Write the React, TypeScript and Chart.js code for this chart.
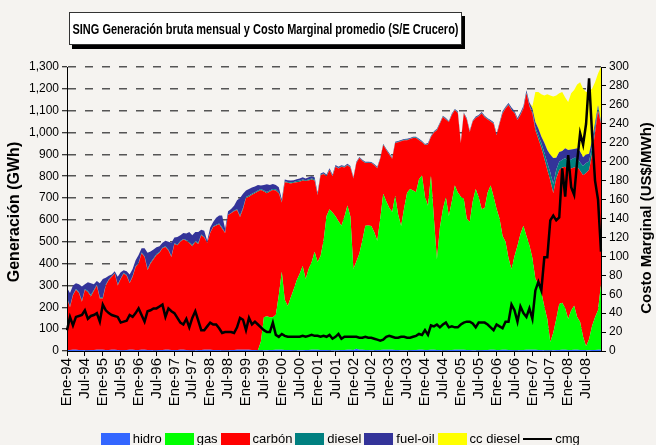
import React, { useEffect, useRef } from 'react';
import { Chart, registerables } from 'chart.js';

Chart.register(...registerables);

const MONTHS = ['Ene', 'Feb', 'Mar', 'Abr', 'May', 'Jun', 'Jul', 'Ago', 'Sep', 'Oct', 'Nov', 'Dic'];
const YEARS = ['94', '95', '96', '97', '98', '99', '00', '01', '02', '03', '04', '05', '06', '07', '08'];
const categories: string[] = [];
for (const y of YEARS) for (const m of MONTHS) categories.push(`${m}-${y}`);

// GWh per month, Jan-94 .. Dec-08
const hidro = [
  5, 5, 6, 6, 5, 5, 4, 4, 5, 5, 6, 6,
  6, 5, 5, 6, 6, 5, 4, 4, 5, 6, 6, 5,
  5, 6, 6, 5, 5, 4, 4, 5, 5, 6, 6, 5,
  5, 5, 6, 6, 5, 4, 4, 4, 5, 5, 6, 6,
  6, 5, 5, 5, 4, 4, 4, 5, 5, 6, 6, 6,
  6, 6, 5, 5, 4, 4, 4, 4, 5, 5, 6, 6,
  6, 5, 5, 5, 4, 4, 4, 4, 5, 5, 6, 6,
  6, 5, 5, 5, 4, 4, 4, 4, 5, 5, 6, 6,
  5, 10, 6, 6, 5, 5, 4, 4, 5, 5, 6, 6,
  6, 6, 5, 5, 4, 4, 4, 4, 5, 5, 6, 6,
  5, 5, 6, 6, 5, 5, 4, 4, 5, 5, 6, 6,
  6, 6, 5, 5, 4, 4, 4, 4, 5, 5, 6, 6,
  5, 5, 6, 6, 5, 5, 4, 4, 5, 5, 6, 6,
  6, 6, 5, 5, 4, 4, 4, 4, 5, 5, 6, 6,
  5, 5, 6, 6, 5, 5, 4, 4, 5, 5, 6, 6,
];

const gas = [
  0, 0, 0, 0, 0, 0, 0, 0, 0, 0, 0, 0,
  0, 0, 0, 0, 0, 0, 0, 0, 0, 0, 0, 0,
  0, 0, 0, 0, 0, 0, 0, 0, 0, 0, 0, 0,
  0, 0, 0, 0, 0, 0, 0, 0, 0, 0, 0, 0,
  0, 0, 0, 0, 0, 0, 0, 0, 0, 0, 0, 0,
  0, 0, 0, 0, 0, 40, 150, 155, 150, 150, 160, 250,
  357, 230, 201, 240, 279, 320, 350, 385, 325, 370, 400, 448,
  401, 430, 500, 613, 645, 630, 613, 590, 568, 610, 660, 610,
  370, 400, 440, 500, 568, 570, 568, 540, 500, 600, 714, 680,
  650, 630, 706, 620, 568, 650, 720, 737, 730, 722, 780, 797,
  700, 660, 797, 600, 415, 560, 645, 700, 613, 680, 752, 720,
  700, 691, 600, 585, 680, 737, 700, 645, 650, 720, 752, 700,
  645, 600, 520, 494, 420, 370, 430, 478, 530, 568, 520, 478,
  420, 325, 300, 265, 200, 142, 37, 80, 142, 210, 215, 190,
  142, 180, 201, 150, 128, 60, 18, 50, 110, 150, 180, 300,
];

const carbon = [
  235, 195, 249, 274, 260, 220, 276, 266, 245, 270, 294, 234,
  234, 295, 320, 334, 349, 295, 326, 351, 340, 304, 334, 380,
  395, 442, 424, 365, 395, 416, 436, 445, 465, 470, 454, 425,
  485, 479, 494, 504, 500, 490, 476, 496, 485, 525, 514, 488,
  534, 563, 570, 575, 556, 536, 618, 625, 635, 639, 607, 644,
  694, 700, 710, 717, 726, 693, 576, 563, 575, 582, 569, 466,
  317, 538, 564, 522, 487, 449, 421, 391, 448, 405, 379, 326,
  307, 370, 305, 182, 179, 166, 226, 241, 270, 225, 184, 224,
  415, 450, 437, 364, 287, 285, 288, 306, 332, 275, 223, 234,
  244, 244, 241, 330, 388, 311, 241, 229, 240, 248, 179, 152,
  238, 280, 177, 394, 591, 475, 422, 356, 430, 395, 345, 364,
  246, 390, 455, 412, 366, 325, 371, 438, 415, 335, 292, 334,
  338, 435, 561, 610, 701, 728, 656, 575, 545, 537, 654, 636,
  661, 680, 665, 660, 676, 682, 739, 638, 643, 613, 619, 647,
  683, 650, 633, 687, 692, 740, 793, 774, 785, 845, 914, 734,
];

const diesel = [
  5, 6, 4, 4, 5, 6, 4, 5, 6, 4, 3, 6,
  6, 4, 3, 2, 2, 4, 3, 3, 3, 4, 4, 3,
  4, 3, 4, 6, 5, 4, 4, 3, 3, 3, 4, 5,
  3, 4, 3, 3, 3, 5, 5, 4, 5, 3, 3, 2,
  3, 2, 3, 4, 5, 2, 2, 2, 3, 4, 7, 6,
  5, 6, 5, 5, 5, 4, 5, 6, 5, 5, 5, 5,
  5, 4, 4, 5, 4, 5, 5, 5, 4, 5, 5, 5,
  4, 3, 3, 3, 3, 3, 3, 3, 3, 3, 3, 3,
  2, 3, 2, 2, 3, 2, 2, 3, 2, 2, 3, 2,
  2, 3, 2, 3, 2, 2, 3, 2, 2, 3, 2, 3,
  2, 3, 2, 2, 3, 2, 3, 2, 2, 3, 2, 3,
  3, 2, 3, 3, 2, 3, 2, 3, 3, 2, 3, 3,
  3, 3, 4, 3, 3, 4, 3, 3, 4, 3, 4, 5,
  8, 12, 18, 22, 28, 32, 38, 42, 40, 38, 35, 40,
  40, 42, 45, 40, 38, 42, 45, 40, 35, 25, 15, 5,
];

const fuelOil = [
  45, 59, 41, 26, 35, 64, 21, 40, 54, 26, 17, 64,
  84, 31, 17, 8, 8, 36, 27, 12, 17, 36, 31, 27,
  36, 19, 36, 74, 50, 41, 31, 27, 22, 26, 36, 60,
  27, 34, 27, 27, 30, 46, 45, 41, 50, 22, 27, 9,
  22, 20, 32, 36, 55, 18, 16, 18, 22, 41, 80, 64,
  30, 30, 28, 26, 25, 16, 25, 35, 25, 22, 20, 22,
  10, 8, 8, 8, 8, 8, 10, 10, 8, 10, 10, 10,
  6, 5, 5, 5, 5, 5, 5, 5, 4, 4, 4, 4,
  4, 3, 3, 4, 3, 4, 3, 3, 4, 3, 3, 4,
  4, 3, 4, 3, 4, 3, 4, 3, 4, 3, 4, 3,
  3, 4, 3, 4, 3, 4, 3, 4, 3, 4, 3, 4,
  4, 3, 4, 4, 3, 4, 3, 4, 4, 3, 4, 4,
  5, 4, 6, 5, 6, 8, 6, 7, 8, 8, 10, 12,
  15, 25, 30, 30, 45, 60, 80, 120, 55, 45, 40, 45,
  50, 45, 40, 45, 50, 40, 40, 35, 30, 20, 10, 5,
];

const ccDiesel = [
  0, 0, 0, 0, 0, 0, 0, 0, 0, 0, 0, 0,
  0, 0, 0, 0, 0, 0, 0, 0, 0, 0, 0, 0,
  0, 0, 0, 0, 0, 0, 0, 0, 0, 0, 0, 0,
  0, 0, 0, 0, 0, 0, 0, 0, 0, 0, 0, 0,
  0, 0, 0, 0, 0, 0, 0, 0, 0, 0, 0, 0,
  0, 0, 0, 0, 0, 0, 0, 0, 0, 0, 0, 0,
  0, 0, 0, 0, 0, 0, 0, 0, 0, 0, 0, 0,
  0, 0, 0, 0, 0, 0, 0, 0, 0, 0, 0, 0,
  0, 0, 0, 0, 0, 0, 0, 0, 0, 0, 0, 0,
  0, 0, 0, 0, 0, 0, 0, 0, 0, 0, 0, 0,
  0, 0, 0, 0, 0, 0, 0, 0, 0, 0, 0, 0,
  0, 0, 0, 0, 0, 0, 0, 0, 0, 0, 0, 0,
  0, 0, 0, 0, 0, 0, 0, 0, 0, 0, 0, 0,
  10, 137, 167, 193, 217, 255, 272, 281, 285, 269, 270, 232,
  220, 258, 270, 292, 317, 313, 285, 287, 235, 185, 145, 250,
];

// US$/MWh
const cmg = [
  22, 36, 27, 36, 37, 38, 43, 34, 37, 38, 40, 31,
  49, 43, 40, 38, 37, 36, 30, 31, 32, 38, 36, 40,
  45, 38, 31, 42, 43, 45, 45, 47, 49, 36, 45, 42,
  40, 35, 30, 28, 34, 25, 35, 42, 32, 22, 22, 26,
  30, 28, 28, 24, 19, 20, 20, 20, 19, 25, 35, 33,
  22, 35, 28, 31, 28, 25, 22, 20, 20, 30, 17, 15,
  18, 16, 15, 15, 15, 15, 15, 16, 15, 16, 17, 16,
  16, 15, 16, 15, 17, 13, 15, 18, 13, 15, 15, 15,
  15, 15, 14, 14, 15, 14, 14, 13, 12, 11, 12, 15,
  16, 15, 14, 14, 15, 15, 14, 14, 15, 16, 18, 17,
  22, 17, 27, 26, 28, 25, 28, 30, 25, 26, 25, 25,
  28, 30, 31, 31, 29, 25, 30, 30, 30, 28, 25, 22,
  28, 26, 24, 31, 31, 49, 43, 31, 47, 40, 36, 45,
  34, 64, 73, 64, 99, 99, 138, 143, 138, 141, 193, 163,
  207, 173, 165, 200, 230, 218, 240, 288, 230, 180, 160, 105,
];

const TITLE = 'SING Generación bruta mensual y Costo Marginal promedio (S/E Crucero)';
const Y_TITLE = 'Generación (GWh)';
const Y1_TITLE = 'Costo Marginal (US$/MWh)';

const AREA_SERIES = [
  { label: 'hidro', data: hidro, color: '#3366ff' },
  { label: 'gas', data: gas, color: '#00ff00' },
  { label: 'carbón', data: carbon, color: '#ff0000' },
  { label: 'diesel', data: diesel, color: '#008080' },
  { label: 'fuel-oil', data: fuelOil, color: '#333399' },
  { label: 'cc diesel', data: ccDiesel, color: '#ffff00' },
];
const LINE_LABEL = 'cmg';

const FONT = "'Liberation Sans', Arial, Helvetica, sans-serif";
const TITLE_FONT = "'Liberation Sans Narrow', 'Liberation Sans', Arial, sans-serif";
const BG = '#f5f3f0';

function makeSwatch(color: string, isLine: boolean): HTMLCanvasElement {
  const c = document.createElement('canvas');
  c.width = 29;
  c.height = 12;
  const g = c.getContext('2d')!;
  g.fillStyle = color;
  if (isLine) g.fillRect(0, 5, 29, 2);
  else g.fillRect(0, 0, 29, 12);
  return c;
}

function drawVertical(ctx: CanvasRenderingContext2D, text: string, x: number, y: number, font: string) {
  ctx.save();
  ctx.translate(x, y);
  ctx.rotate(-Math.PI / 2);
  ctx.font = font;
  ctx.fillStyle = '#000';
  ctx.textAlign = 'center';
  ctx.textBaseline = 'middle';
  ctx.fillText(text, 0, 0);
  ctx.restore();
}

const decorPlugin = {
  id: 'decor',
  beforeDraw(chart: any) {
    const ctx = chart.ctx;
    ctx.save();
    ctx.fillStyle = BG;
    ctx.fillRect(0, 0, chart.width, chart.height);
    ctx.restore();
  },
  afterDraw(chart: any) {
    const ctx: CanvasRenderingContext2D = chart.ctx;
    const area = chart.chartArea;
    const bx = 69, by = 12, bw = 393, bh = 33;
    ctx.save();
    ctx.fillStyle = '#000';
    ctx.fillRect(bx + 3, by + 4, bw, bh);
    ctx.fillStyle = '#ffffff';
    ctx.fillRect(bx, by, bw, bh);
    ctx.strokeStyle = '#333';
    ctx.lineWidth = 1;
    ctx.strokeRect(bx + 0.5, by + 0.5, bw - 1, bh - 1);
    ctx.font = `bold 15px ${TITLE_FONT}`;
    const w = ctx.measureText(TITLE).width;
    const s = Math.min(1, 386 / w);
    ctx.translate(bx + bw / 2, by + bh / 2 + 1);
    ctx.scale(s, 1);
    ctx.fillStyle = '#000';
    ctx.textAlign = 'center';
    ctx.textBaseline = 'middle';
    ctx.fillText(TITLE, 0, 0);
    ctx.restore();

    const midY = (area.top + area.bottom) / 2;
    drawVertical(ctx, Y_TITLE, 15, midY + 3, `bold 16px ${FONT}`);
    drawVertical(ctx, Y1_TITLE, 647, midY + 9, `bold 15px ${FONT}`);
  },
};

export default function App() {
  const ref = useRef<HTMLCanvasElement | null>(null);

  useEffect(() => {
    const canvas = ref.current;
    if (!canvas) return;

    const datasets: any[] = AREA_SERIES.map((s, i) => ({
      label: s.label,
      data: s.data,
      yAxisID: 'y',
      backgroundColor: s.color,
      borderColor: s.color,
      borderWidth: 0,
      pointRadius: 0,
      tension: 0,
      fill: i === 0 ? 'origin' : '-1',
      order: 1,
    }));
    datasets.push({
      label: LINE_LABEL,
      data: cmg,
      yAxisID: 'y1',
      borderColor: '#000',
      backgroundColor: '#000',
      borderWidth: 2.5,
      pointRadius: 0,
      tension: 0,
      fill: false,
      order: 0,
    });

    const swatches = [
      ...AREA_SERIES.map((s) => makeSwatch(s.color, false)),
      makeSwatch('#000', true),
    ];

    const chart = new Chart(canvas, {
      type: 'line',
      data: { labels: categories, datasets },
      options: {
        responsive: false,
        animation: false,
        events: [],
        layout: { padding: { left: 28, right: 0, top: 67, bottom: 0 } },
        plugins: {
          tooltip: { enabled: false },
          title: { display: false },
          legend: {
            position: 'bottom',
            maxHeight: 19,
            labels: {
              usePointStyle: true,
              pointStyleWidth: 22,
              boxHeight: 12,
              padding: 6.5,
              color: '#000',
              font: { family: FONT, size: 13 },
              generateLabels: (ch: any) =>
                ch.data.datasets.map((ds: any, i: number) => ({
                  text: ds.label,
                  fillStyle: ds.backgroundColor,
                  strokeStyle: ds.borderColor,
                  lineWidth: 0,
                  hidden: false,
                  pointStyle: swatches[i],
                  datasetIndex: i,
                  fontColor: '#000',
                })),
            },
          },
        },
        scales: {
          x: {
            type: 'category',
            offset: false,
            grid: { drawOnChartArea: false, tickLength: 5, tickColor: '#000', tickWidth: 1 },
            border: { display: true, color: '#000', width: 1, z: 1 },
            ticks: {
              autoSkip: false,
              minRotation: 90,
              maxRotation: 90,
              padding: 2,
              color: '#000',
              font: { family: FONT, size: 15 },
            },
            afterBuildTicks: (scale: any) => {
              scale.ticks = scale.ticks.filter((t: any) => t.value % 6 === 0);
            },
            afterFit: (scale: any) => {
              scale.height = 75;
            },
          },
          y: {
            type: 'linear',
            position: 'left',
            stacked: true,
            min: 0,
            max: 1300,
            grid: {
              color: '#555',
              lineWidth: 1.5,
              tickColor: '#000',
              tickWidth: 1,
              tickLength: 5,
              tickBorderDash: [],
            },
            border: { display: true, color: '#000', width: 1, dash: [8, 9], z: 1 },
            ticks: {
              stepSize: 100,
              padding: 3,
              color: '#000',
              font: { family: FONT, size: 12 },
              callback: (v: any) => Number(v).toLocaleString('en-US'),
            },
            afterFit: (scale: any) => {
              scale.width = 39;
            },
          },
          y1: {
            type: 'linear',
            position: 'right',
            stacked: false,
            min: 0,
            max: 300,
            grid: { drawOnChartArea: false, tickColor: '#000', tickWidth: 1, tickLength: 5 },
            border: { display: true, color: '#000', width: 1, z: 1 },
            ticks: {
              stepSize: 20,
              padding: 3,
              color: '#000',
              font: { family: FONT, size: 12 },
            },
            afterFit: (scale: any) => {
              scale.width = 55;
            },
          },
        },
      } as any,
      plugins: [decorPlugin],
    });

    return () => chart.destroy();
  }, []);

  return (
    <div style={{ position: 'fixed', left: 0, top: 0, width: 656, height: 445, background: BG }}>
      <canvas ref={ref} width={656} height={445} style={{ display: 'block' }} />
    </div>
  );
}
